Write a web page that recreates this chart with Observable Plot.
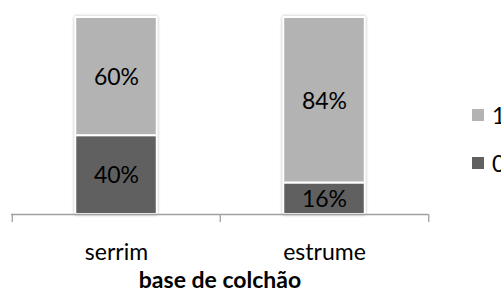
<!DOCTYPE html>
<html>
<head>
<meta charset="utf-8">
<script src="https://cdn.jsdelivr.net/npm/d3@7"></script>
<script src="https://cdn.jsdelivr.net/npm/@observablehq/plot@0.6"></script>
<style>
  html, body { margin: 0; padding: 0; background: #fff; overflow: hidden; }
  #wrap { position: relative; width: 501px; height: 291px; overflow: hidden; font-family: Lato, sans-serif; }
  #wrap svg g[aria-label="bar"] { filter: drop-shadow(0 0 1.5px rgba(0,0,0,0.28)); }
  .leg { position: absolute; display: flex; align-items: center; font-size: 23px; color: #000; white-space: nowrap; }
  .leg span.sw { display: inline-block; width: 12px; height: 12px; margin-right: 8px; }
</style>
</head>
<body>
<div id="wrap"></div>
<script>
const categories = ["serrim", "estrume"];
const seriesNames = ["0", "1"];
const values0 = [40, 16];
const values1 = [60, 84];
const colors = ["#606060", "#b3b3b3"];
const axisTitle = "base de colchão";

const data = [];
categories.forEach((c, i) => {
  data.push({cat: c, series: seriesNames[0], value: values0[i]});
  data.push({cat: c, series: seriesNames[1], value: values1[i]});
});

const W = 501, H = 291;
const mL = 11, mR = 73, mT = 17, mB = 77;
const bw = (W - mL - mR) / categories.length;
const inset = (bw - 82) / 2;

const chart = Plot.plot({
  width: W,
  height: H,
  marginLeft: mL,
  marginRight: mR,
  marginTop: mT,
  marginBottom: mB,
  style: {fontFamily: "Lato, sans-serif", fontSize: "23px", color: "#000", background: "#fff"},
  x: {domain: categories, padding: 0, label: null},
  y: {domain: [0, 100], axis: null},
  color: {domain: seriesNames, range: colors},
  marks: [
    Plot.barY(data, Plot.stackY({x: "cat", y: "value", z: "series", fill: "series", order: seriesNames, stroke: "white", strokeWidth: 2, insetLeft: inset, insetRight: inset})),
    Plot.text(data, Plot.stackY({x: "cat", y: "value", z: "series", order: seriesNames, text: d => d.value + "%", fill: "#000", fontSize: 23, dy: 1})),
    Plot.ruleY([0], {stroke: "#a0a0a0", strokeWidth: 1.3}),
    Plot.axisX({tickSize: 0, tickPadding: 29, fontSize: 23, label: null}),
    Plot.axisX({ticks: categories, text: null, tickSize: 8, dx: -bw / 2, stroke: "#a0a0a0", strokeWidth: 1.3, label: null}),
    Plot.axisX({ticks: categories.slice(-1), text: null, tickSize: 8, dx: bw / 2, stroke: "#a0a0a0", strokeWidth: 1.3, label: null}),
    Plot.text([axisTitle], {frameAnchor: "bottom", dy: 73, text: d => d, fontWeight: "bold", fontSize: 23, fill: "#000"})
  ]
});

const wrap = document.getElementById("wrap");
wrap.appendChild(chart);

const legendTops = {"1": 109, "0": 157};
[seriesNames[1], seriesNames[0]].forEach((s) => {
  const el = document.createElement("div");
  el.className = "leg";
  el.style.left = "472px";
  el.style.top = (legendTops[s] - 8) + "px";
  el.style.height = "28px";
  const sw = document.createElement("span");
  sw.className = "sw";
  sw.style.background = colors[seriesNames.indexOf(s)];
  el.appendChild(sw);
  el.appendChild(document.createTextNode(s));
  wrap.appendChild(el);
});
</script>
</body>
</html>
